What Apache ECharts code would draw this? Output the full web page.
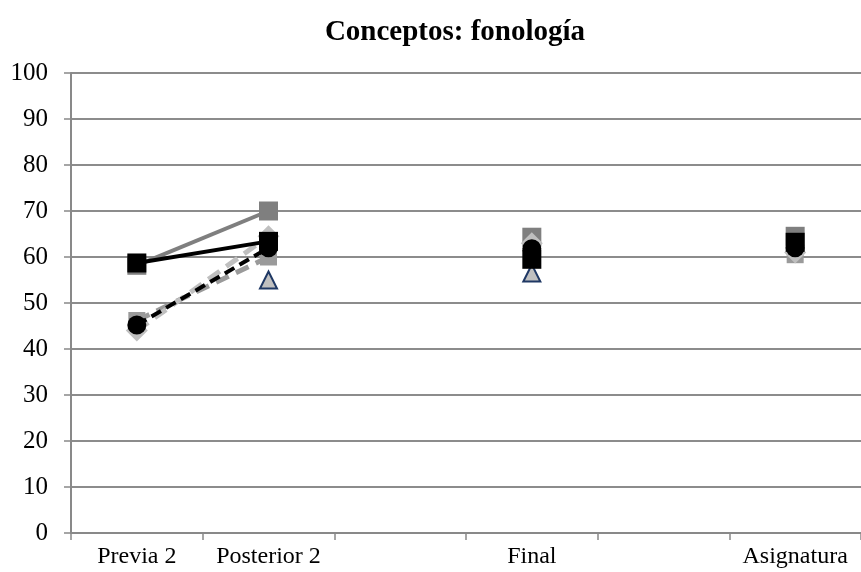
<!DOCTYPE html>
<html>
<head>
<meta charset="utf-8">
<script src="https://cdn.jsdelivr.net/npm/echarts@6/dist/echarts.min.js"></script>
<style>html,body{margin:0;padding:0;background:#fff}#c{width:861px;height:572px}</style>
</head>
<body>
<div id="c"></div>
<script>
const categories = ['Previa 2', 'Posterior 2', '', 'Final', '', 'Asignatura'];
const yTicks = [0, 10, 20, 30, 40, 50, 60, 70, 80, 90, 100];
const grisCuadrado = [58.2, 70, null, 64.3, null, 64.5];
const negroCuadrado = [58.7, 63.4, null, 59.5, null, 63.2];
const grisDiamante = [44, 64.5, null, 63, null, 61];
const grisMedio = [46.2, 60, null, 60.5, null, 60.5];
const negroCirculo = [45.2, 62, null, 61.8, null, 62];
const triangulo = [null, 55, null, 56.5, null, null];

const chart = echarts.init(document.getElementById('c'), null, {renderer: 'canvas'});
const font = '"Liberation Serif", "Times New Roman", serif';
chart.setOption({
  animation: false,
  backgroundColor: '#fff',
  title: {
    text: 'Conceptos: fonología',
    left: 450, top: 13, textAlign: 'center',
    textStyle: {fontFamily: font, fontSize: 29, fontWeight: 'bold', color: '#000'}
  },
  grid: {left: 71, width: 798, top: 73, bottom: 39, containLabel: false},
  xAxis: {
    type: 'category', data: categories, boundaryGap: true,
    axisLine: {lineStyle: {color: '#898989', width: 2}},
    axisTick: {show: true, length: 7, lineStyle: {color: '#898989', width: 1.5}},
    axisLabel: {fontFamily: font, fontSize: 24, color: '#000', margin: 12, interval: 0}
  },
  yAxis: {
    type: 'value', min: yTicks[0], max: yTicks[yTicks.length - 1], interval: 10,
    axisLine: {show: true, lineStyle: {color: '#898989', width: 2}},
    axisTick: {show: true, length: 7, lineStyle: {color: '#898989', width: 1.5}},
    axisLabel: {fontFamily: font, fontSize: 25, color: '#000', margin: 23},
    splitLine: {lineStyle: {color: '#8c8c8c', width: 2}}
  },
  series: [
    {name: 'S1', type: 'line', data: grisCuadrado, symbol: 'rect', symbolSize: 19,
     itemStyle: {color: '#7f7f7f'}, lineStyle: {color: '#7f7f7f', width: 4}, connectNulls: false, z: 2},
    {name: 'S5', type: 'line', data: grisMedio, symbol: 'rect', symbolSize: 17,
     itemStyle: {color: '#9a9a9a'}, lineStyle: {color: '#9a9a9a', width: 5, type: [14, 8]}, z: 2},
    {name: 'S3', type: 'line', data: grisDiamante, symbol: 'diamond', symbolSize: 22,
     itemStyle: {color: '#bfbfbf'}, lineStyle: {color: '#bfbfbf', width: 5, type: [14, 8]}, z: 3},
    {name: 'S2', type: 'line', data: negroCuadrado, symbol: 'rect', symbolSize: 19,
     itemStyle: {color: '#000'}, lineStyle: {color: '#000', width: 4}, z: 4},
    {name: 'S4', type: 'line', data: negroCirculo, symbol: 'circle', symbolSize: 19,
     itemStyle: {color: '#000'}, lineStyle: {color: '#000', width: 4, type: [11, 6]}, z: 5},
    {name: 'S6', type: 'line', data: triangulo, symbol: 'triangle', symbolSize: 17,
     itemStyle: {color: '#c0c0c0', borderColor: '#1f3864', borderWidth: 2},
     lineStyle: {width: 0, opacity: 0}, z: 1}
  ]
});
</script>
</body>
</html>
